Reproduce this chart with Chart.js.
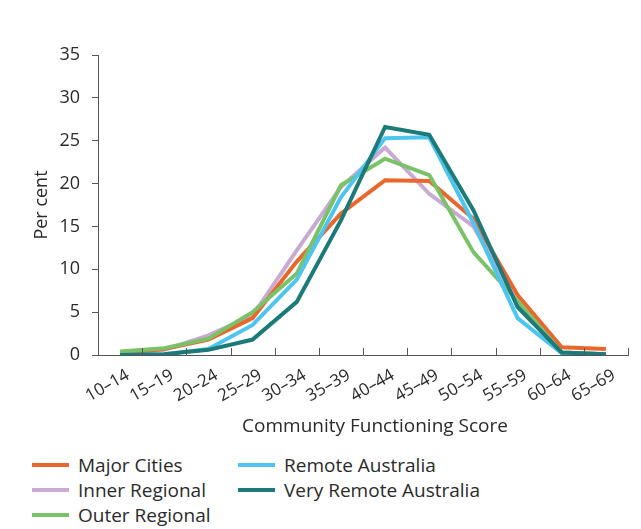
<!DOCTYPE html>
<html>
<head>
<meta charset="utf-8">
<script src="https://cdn.jsdelivr.net/npm/chart.js@4"></script>
<style>
  html, body { margin: 0; padding: 0; background: #fff; }
  #wrap { position: relative; width: 641px; height: 529px; font-family: "Open Sans", sans-serif; color: #2a2a2a; }
  #box { position: absolute; left: 0; top: 0; width: 641px; height: 445px; }
  #xtitle { position: absolute; left: 175px; width: 400px; top: 413px; height: 24px; line-height: 24px; font-size: 19px; text-align: center; }
  #legend { position: absolute; left: 0; top: 453px; width: 641px; }
  .item { position: absolute; height: 24px; line-height: 24px; font-size: 19px; white-space: nowrap; }
  .item span.sw { position: absolute; left: 0; top: 10px; width: 37px; height: 4px; }
  .item span.tx { position: absolute; left: 46px; top: 0; }
</style>
</head>
<body>
<div id="wrap">
  <div id="box"><canvas id="communityChart"></canvas></div>
  <div id="xtitle">Community Functioning Score</div>
  <div id="legend"></div>
</div>
<script>
// score bands on the x axis
var categories = ['10–14', '15–19', '20–24', '25–29', '30–34', '35–39', '40–44', '45–49', '50–54', '55–59', '60–64', '65–69'];

// per cent of people in each band, by remoteness area
var majorCities   = [0.2, 0.7, 1.8, 4.3, 10.9, 16.5, 20.4, 20.3, 15.9, 7.0, 0.9, 0.7];
var innerRegional = [0.2, 0.6, 2.3, 4.6, 12.2, 19.6, 24.2, 18.8, 15.0, 6.0, 0.3, 0.1];
var outerRegional = [0.4, 0.8, 1.9, 5.0, 9.5, 19.8, 22.9, 21.0, 12.0, 6.3, 0.3, 0.1];
var remoteAus     = [0.0, 0.1, 0.7, 3.5, 8.8, 18.4, 25.3, 25.4, 15.4, 4.3, 0.2, 0.0];
var veryRemoteAus = [0.0, 0.1, 0.6, 1.8, 6.2, 15.7, 26.6, 25.7, 16.9, 5.6, 0.3, 0.1];

var yTicks = [0, 5, 10, 15, 20, 25, 30, 35];

var series = [
    { label: 'Major Cities', data: majorCities, color: '#e9672d', col: 0, row: 0 },
    { label: 'Inner Regional', data: innerRegional, color: '#c9aad3', col: 0, row: 1 },
    { label: 'Outer Regional', data: outerRegional, color: '#79c268', col: 0, row: 2 },
    { label: 'Remote Australia', data: remoteAus, color: '#4ec4f0', col: 1, row: 0 },
    { label: 'Very Remote Australia', data: veryRemoteAus, color: '#1c7a78', col: 1, row: 1 }
];

var textColor = '#2a2a2a';
var axisColor = '#555';

// draw order: put major cities on top like the original
var drawOrder = [3, 4, 2, 1, 0];

// small tick marks on the x axis, pointing up into the plot, at band edges
var innerTicks = {
    id: 'innerTicks',
    afterDraw: function(chart) {
        var xs = chart.scales.x;
        var ctx = chart.ctx;
        ctx.save();
        ctx.strokeStyle = axisColor;
        ctx.lineWidth = 1;
        for (var i = 0; i <= categories.length; i++) {
            var px = Math.round(xs.getPixelForValue(i - 0.5)) + 0.5;
            ctx.beginPath();
            ctx.moveTo(px, xs.top);
            ctx.lineTo(px, xs.top - 7);
            ctx.stroke();
        }
        ctx.restore();
    }
};

var ctx = document.getElementById('communityChart').getContext('2d');
var chart = new Chart(ctx, {
    type: 'line',
    data: {
        labels: categories,
        datasets: series.map(function(s, i) {
            return {
                label: s.label,
                data: s.data,
                borderColor: s.color,
                backgroundColor: s.color,
                borderWidth: 4,
                pointRadius: 0,
                tension: 0,
                order: drawOrder[i]
            };
        })
    },
    plugins: [innerTicks],
    options: {
        responsive: true,
        maintainAspectRatio: false,
        animation: false,
        layout: { padding: { top: 55, right: 13, left: 0, bottom: 0 } },
        plugins: {
            legend: { display: false },
            tooltip: { enabled: false }
        },
        scales: {
            x: {
                offset: true,
                grid: { display: false },
                border: { display: true, color: axisColor, width: 1 },
                ticks: {
                    color: textColor,
                    font: { family: 'Open Sans', size: 17 },
                    minRotation: 30,
                    maxRotation: 30,
                    padding: 2,
                    labelOffset: 8,
                    autoSkip: false
                },
                afterFit: function(scale) { scale.height = 90; }
            },
            y: {
                min: 0,
                max: 35,
                afterBuildTicks: function(scale) {
                    scale.ticks = yTicks.map(function(v) { return { value: v }; });
                },
                grid: {
                    drawOnChartArea: false,
                    drawTicks: true,
                    tickLength: 6,
                    color: axisColor
                },
                border: { display: true, color: axisColor, width: 1 },
                ticks: {
                    color: textColor,
                    font: { family: 'Open Sans', size: 18 },
                    padding: 12
                },
                title: {
                    display: true,
                    text: 'Per cent',
                    color: textColor,
                    font: { family: 'Open Sans', size: 18 },
                    padding: { top: 31, bottom: 0 }
                },
                afterFit: function(scale) { scale.width = 98; }
            }
        }
    }
});

// legend laid out in two columns, filled top to bottom
var legendEl = document.getElementById('legend');
var colLeft = [32, 238];
series.forEach(function(s) {
    var item = document.createElement('div');
    item.className = 'item';
    item.style.left = colLeft[s.col] + 'px';
    item.style.top = (s.row * 25) + 'px';
    item.innerHTML = '<span class="sw" style="background:' + s.color + '"></span><span class="tx">' + s.label + '</span>';
    legendEl.appendChild(item);
});
</script>
</body>
</html>
